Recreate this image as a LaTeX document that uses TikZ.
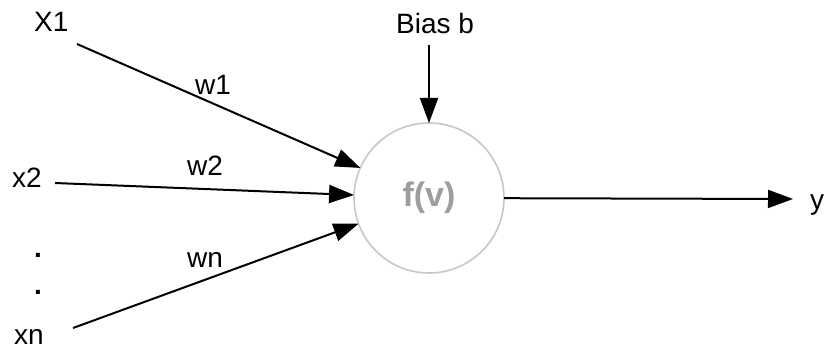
\documentclass[tikz,border=0pt]{standalone}
\usepackage{fontspec}
\setmainfont{Liberation Sans}
\usepackage{tikz}
\usetikzlibrary{arrows.meta}

\begin{document}
\begin{tikzpicture}[x=1pt, y=-1pt]
\tikzset{lbl/.style={inner sep=0pt, anchor=base west, font=\fontsize{28}{32}\selectfont}}
\tikzset{syn/.style={line width=2pt, -{Triangle[length=25pt,width=18pt]}}}
\tikzset{neuron/.style={circle, draw=black!22, line width=1.6pt, minimum size=150pt, inner sep=0pt, outer sep=0pt, text=black!38, font=\fontsize{34}{38}\selectfont\bfseries}}
\useasboundingbox (0,0) rectangle (828,350);

\node[neuron] (fv) at (429,198) {f(v)};

\node[lbl] (x1) at (34,32) {X1};
\node[lbl] (x2) at (12,188) {x2};
\node[lbl,anchor=base] (dot1) at (38,258) {\textbf{.}};
\node[lbl,anchor=base] (dot2) at (38,294) {\textbf{.}};
\node[lbl] (xn) at (14,344) {xn};
\node[lbl] (w1) at (195,95) {w1};
\node[lbl] (w2) at (187,176) {w2};
\node[lbl] (wn) at (187,267) {wn};
\node[lbl] (bias) at (396,34) {Bias b};
\node[lbl] (y) at (810,210) {y};

\coordinate (s1) at (77,44);
\coordinate (s2) at (55,183);
\coordinate (sn) at (73,328);
\coordinate (sb) at (429,45);
\coordinate (out) at (793,199);

\draw[syn] (s1) -- (fv);
\draw[syn] (s2) -- (fv);
\draw[syn] (sn) -- (fv);
\draw[syn] (sb) -- (fv);
\draw[syn] (fv) -- (out);

\end{tikzpicture}
\end{document}
